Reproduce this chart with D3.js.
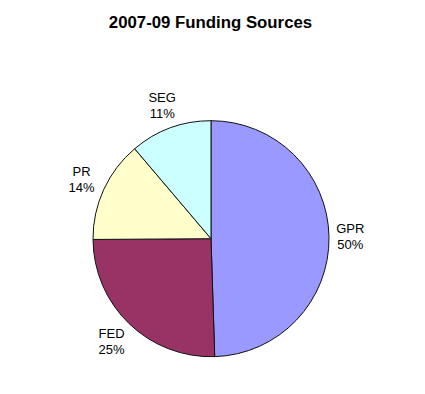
<!DOCTYPE html>
<html>
<head>
<meta charset="utf-8">
<script src="https://cdn.jsdelivr.net/npm/d3@7"></script>
<style>
  html, body { margin: 0; padding: 0; background: #fff; }
  svg { display: block; }
</style>
</head>
<body>
<svg id="chart" width="425" height="394"></svg>
<script>
const title = "2007-09 Funding Sources";
const categories = ["GPR", "FED", "PR", "SEG"];
const values = [49.5, 25.4, 13.9, 11.2];
const pctLabels = ["50%", "25%", "14%", "11%"];
const colors = ["#9999FF", "#993366", "#FFFFCC", "#CCFFFF"];

const W = 425, H = 394;
const cx = 211, cy = 238.7, r = 118, labelGap = 125;

const svg = d3.select("#chart");
svg.append("rect").attr("width", W).attr("height", H).attr("fill", "#fff");

svg.append("text")
  .attr("x", 210.5).attr("y", 28)
  .attr("text-anchor", "middle")
  .attr("font-family", "'Liberation Sans', Arial, sans-serif")
  .attr("font-weight", "bold")
  .attr("font-size", "16.8px")
  .attr("fill", "#000")
  .text(title);

const data = categories.map((c, i) => ({ name: c, value: values[i], pct: pctLabels[i], color: colors[i] }));
const pie = d3.pie().value(d => d.value).sort(null);
const arcs = pie(data);
const arc = d3.arc().innerRadius(0).outerRadius(r);

const g = svg.append("g").attr("transform", `translate(${cx},${cy})`);
g.selectAll("path.slice").data(arcs).enter().append("path")
  .attr("class", "slice")
  .attr("d", arc)
  .attr("fill", d => d.data.color)
  .attr("stroke", "#111")
  .attr("stroke-width", 1)
  .attr("stroke-linejoin", "round");

const lbl = g.selectAll("text.lbl").data(arcs).enter().append("text")
  .attr("class", "lbl")
  .attr("text-anchor", "middle")
  .attr("font-family", "'Liberation Sans', Arial, sans-serif")
  .attr("font-size", "13px")
  .attr("fill", "#000");
lbl.append("tspan").attr("x", 0).attr("y", -3.5).text(d => d.data.name);
lbl.append("tspan").attr("x", 0).attr("y", 12.5).text(d => d.data.pct);

// place each label box just outside the pie along its mid-angle
lbl.each(function(d) {
  const bb = this.getBBox();
  const hw = bb.width / 2, hh = 12.75;
  const a = (d.startAngle + d.endAngle) / 2;
  const s = Math.sin(a), c = Math.cos(a);
  const dist = labelGap + Math.abs(hw * s) + Math.abs(hh * c);
  d3.select(this).attr("transform", `translate(${dist * s},${-dist * c})`);
});
</script>
</body>
</html>
